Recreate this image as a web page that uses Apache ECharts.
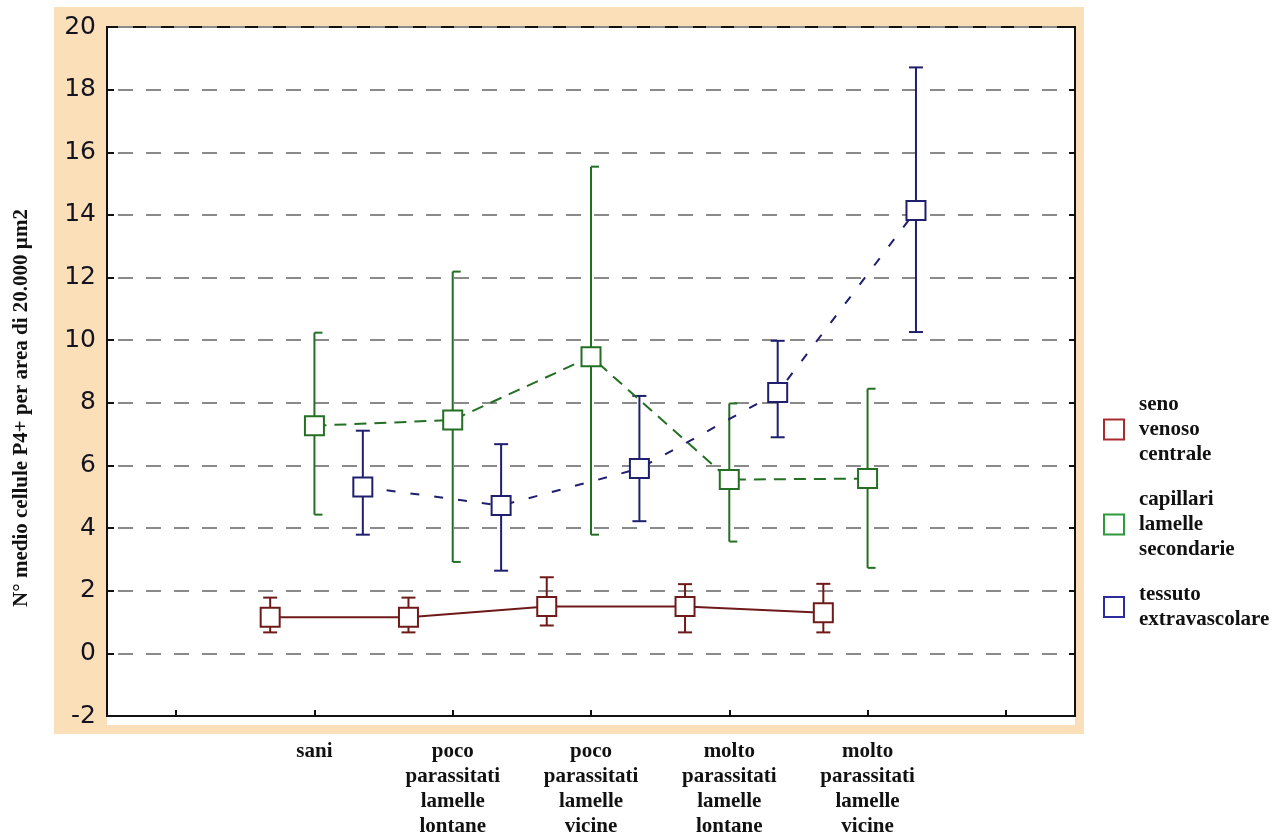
<!DOCTYPE html>
<html>
<head>
<meta charset="utf-8">
<script src="https://cdn.jsdelivr.net/npm/echarts@6/dist/echarts.min.js"></script>
<style>
  html, body { margin: 0; padding: 0; background: #fff; }
  #chart { width: 1284px; height: 839px; }
</style>
</head>
<body>
<div id="chart"></div>
<script>
// Groups along the x axis
const groups = [
  'sani',
  'poco\nparassitati\nlamelle\nlontane',
  'poco\nparassitati\nlamelle\nvicine',
  'molto\nparassitati\nlamelle\nlontane',
  'molto\nparassitati\nlamelle\nvicine'
];

// Y axis scale
const yMin = -2;
const yMax = 20;
const yStep = 2;

// Mean number of P4+ cells, with lower / upper limits of the error bars
const senoMean = [1.15, 1.15, 1.5, 1.5, 1.3];
const senoLow  = [0.67, 0.67, 0.89, 0.67, 0.67];
const senoHigh = [1.78, 1.78, 2.43, 2.21, 2.22];

const capMean = [7.27, 7.45, 9.47, 5.55, 5.58];
const capLow  = [4.43, 2.92, 3.79, 3.57, 2.73];
const capHigh = [10.24, 12.19, 15.54, 7.98, 8.45];

const tessMean = [5.31, 4.72, 5.9, 8.33, 14.14];
const tessLow  = [3.79, 2.64, 4.22, 6.9, 10.26];
const tessHigh = [7.11, 6.68, 8.22, 9.98, 18.71];

const seriesNames = ['seno\nvenoso\ncentrale', 'capillari\nlamelle\nsecondarie', 'tessuto\nextravascolare'];

// Axis categories: one empty slot on each side of the groups
const axisCategories = [''].concat(groups, ['']);

const SERIF = '"Liberation Serif", "Times New Roman", serif';
const SANS = '"DejaVu Sans", Arial, sans-serif';

const chart = echarts.init(document.getElementById('chart'), null, { renderer: 'canvas' });

function xPos(i, shift) { return i + 1 + shift; }

function build(spec) {
  const pts = spec.mean.map((m, i) => [xPos(i, spec.shift), m]);
  const bars = spec.mean.map((m, i) => [xPos(i, spec.shift), spec.low[i], spec.high[i]]);
  const capL = spec.capLeft, capR = spec.capRight;
  return [
    {
      // error bars: vertical whisker with caps
      type: 'custom',
      xAxisIndex: 1,
      z: 2,
      silent: true,
      data: bars,
      renderItem: function (params, api) {
        const lo = api.coord([api.value(0), api.value(1)]);
        const hi = api.coord([api.value(0), api.value(2)]);
        const st = { stroke: spec.color, lineWidth: 2, fill: null };
        return {
          type: 'group',
          children: [
            { type: 'line', shape: { x1: hi[0], y1: hi[1], x2: lo[0], y2: lo[1] }, style: st },
            { type: 'line', shape: { x1: hi[0] - capL, y1: hi[1], x2: hi[0] + capR, y2: hi[1] }, style: st },
            { type: 'line', shape: { x1: lo[0] - capL, y1: lo[1], x2: lo[0] + capR, y2: lo[1] }, style: st }
          ]
        };
      }
    },
    {
      // line joining the means
      type: 'line',
      xAxisIndex: 1,
      z: 3,
      silent: true,
      showSymbol: false,
      symbol: 'none',
      data: pts,
      lineStyle: { color: spec.color, width: 2, type: spec.dash }
    },
    {
      // hollow square on each mean
      type: 'scatter',
      name: spec.name,
      xAxisIndex: 1,
      z: 4,
      symbol: 'rect',
      symbolSize: 19,
      data: pts,
      itemStyle: { color: '#fff', borderColor: spec.color, borderWidth: 2, opacity: 1 }
    }
  ];
}

const series = [].concat(
  build({ name: seriesNames[0], mean: senoMean, low: senoLow, high: senoHigh, shift: -0.32,
          color: '#6f1a1a', dash: 'solid', capLeft: 7, capRight: 7 }),
  build({ name: seriesNames[1], mean: capMean, low: capLow, high: capHigh, shift: 0,
          color: '#236f23', dash: [12, 8], capLeft: 0, capRight: 8 }),
  build({ name: seriesNames[2], mean: tessMean, low: tessLow, high: tessHigh, shift: 0.35,
          color: '#1f1f6e', dash: [9, 15], capLeft: 7, capRight: 7 })
);

const legendColors = ['#a82c2c', '#2f9a3c', '#2c2c9c'];

const option = {
  backgroundColor: '#ffffff',
  animation: false,
  graphic: [
    { type: 'rect', z: -100, silent: true, shape: { x: 54, y: 7, width: 1030, height: 727 },
      style: { fill: '#fbdfb8' } },
    { type: 'rect', z: -99, silent: true, shape: { x: 107, y: 27, width: 968, height: 698 },
      style: { fill: '#ffffff' } },
    { type: 'text', z: 10, silent: true, x: 22, y: 408, rotation: Math.PI / 2,
      style: { text: 'N° medio cellule P4+ per area di 20.000 µm2',
               font: 'bold 21px ' + SERIF, fill: '#111', align: 'center', verticalAlign: 'middle' } }
  ],
  grid: {
    left: 107, top: 27, right: 209, bottom: 122,
    show: true, backgroundColor: 'transparent', borderColor: '#111', borderWidth: 2
  },
  legend: {
    orient: 'vertical',
    left: 1103,
    top: 392,
    padding: 0,
    itemWidth: 20,
    itemHeight: 20,
    itemGap: 20,
    selectedMode: false,
    textStyle: { fontFamily: SERIF, fontWeight: 'bold', fontSize: 21, lineHeight: 25, color: '#111',
                 padding: [0, 0, 0, 10] },
    data: seriesNames.map((n, i) => ({
      name: n, icon: 'rect',
      itemStyle: { color: '#fff', borderColor: legendColors[i], borderWidth: 2 }
    }))
  },
  xAxis: [
    {
      type: 'category',
      data: axisCategories,
      boundaryGap: true,
      position: 'bottom',
      axisLine: { show: true, onZero: false, lineStyle: { color: '#111', width: 2 } },
      axisTick: { show: true, inside: true, length: 6, alignWithLabel: true, interval: 0,
                  lineStyle: { color: '#111', width: 2 } },
      axisLabel: { interval: 0, margin: 23, fontFamily: SERIF, fontWeight: 'bold', fontSize: 21,
                   lineHeight: 25, color: '#111', align: 'center' },
      splitLine: { show: false }
    },
    {
      type: 'value',
      show: false,
      position: 'bottom',
      min: -0.5,
      max: 6.5,
      axisLine: { onZero: false }
    }
  ],
  yAxis: [
    {
      type: 'value',
      position: 'left',
      min: yMin, max: yMax, interval: yStep,
      axisLine: { show: true, onZero: false, lineStyle: { color: '#111', width: 2 } },
      axisTick: { show: true, inside: true, length: 7, lineStyle: { color: '#111', width: 2 } },
      axisLabel: { fontFamily: SANS, fontSize: 25, color: '#141420', margin: 11 },
      splitLine: { show: true, lineStyle: { color: '#8a8a8a', width: 2, type: [15, 13], dashOffset: 17 } }
    },
    {
      type: 'value',
      position: 'right',
      min: yMin, max: yMax, interval: yStep,
      axisLine: { show: true, onZero: false, lineStyle: { color: '#111', width: 2 } },
      axisTick: { show: true, inside: true, length: 6, lineStyle: { color: '#111', width: 2 } },
      axisLabel: { show: false },
      splitLine: { show: false }
    }
  ],
  series: series
};

chart.setOption(option);
</script>
</body>
</html>
